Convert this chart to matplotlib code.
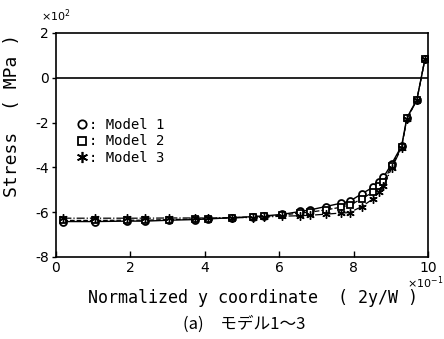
import numpy as np
from matplotlib import pyplot as plt
from matplotlib.lines import Line2D

# %% datos (x en x10^-1, tension en x10^2 MPa)
x_pos = [0.2, 1.05, 1.9, 2.4, 3.05, 3.75, 4.1, 4.72, 5.29, 5.59, 6.08, 6.56, 6.83,
         7.25, 7.66, 7.89, 8.22, 8.53, 8.69, 8.8, 9.02, 9.29, 9.43, 9.70, 9.92]

model1 = [-6.42, -6.42, -6.40, -6.40, -6.36, -6.33, -6.30, -6.25, -6.20, -6.17, -6.10,
          -5.97, -5.90, -5.75, -5.60, -5.52, -5.18, -4.88, -4.65, -4.45, -3.85, -3.05,
          -1.80, -0.98, 0.85]
model2 = [-6.37, -6.37, -6.36, -6.36, -6.33, -6.31, -6.29, -6.25, -6.21, -6.18, -6.13,
          -6.04, -6.00, -5.90, -5.78, -5.70, -5.40, -5.10, -4.85, -4.65, -3.95, -3.10,
          -1.82, -0.98, 0.85]
model3 = [-6.27, -6.27, -6.27, -6.27, -6.26, -6.26, -6.26, -6.25, -6.24, -6.22, -6.18,
          -6.16, -6.14, -6.09, -6.04, -6.02, -5.75, -5.40, -5.10, -4.85, -4.05, -3.12,
          -1.85, -1.00, 0.85]

labels = [": Model 1", ": Model 2", ": Model 3"]
x_ticks = [0, 2, 4, 6, 8, 10]
y_ticks = [2, 0, -2, -4, -6, -8]

mono = 'DejaVu Sans Mono'

fig = plt.figure(figsize=(4.44, 3.39), dpi=100)
ax = fig.add_axes([0.126, 0.242, 0.838, 0.661])

ax.axhline(0, color='black', lw=1.2)

ax.plot(x_pos, model1, '-', color='black', lw=1.0, marker='o', ms=5,
        mfc='white', mec='black', mew=1.3)
ax.plot(x_pos, model2, '--', color='black', lw=0.9, marker='s', ms=4.5,
        mfc='white', mec='black', mew=1.3)
ax.plot(x_pos, model3, '-.', color='black', lw=0.9, marker=(6, 2, 0), ms=6,
        mec='black', mew=1.0)

ax.set_xlim(0, 10)
ax.set_ylim(-8, 2)
ax.set_xticks(x_ticks)
ax.set_yticks(y_ticks)
ax.set_xticklabels([str(v) for v in x_ticks], fontsize=10)
ax.set_yticklabels([str(v) for v in y_ticks], fontsize=10)
ax.tick_params(axis='x', direction='in', length=4, width=1, pad=3)
ax.tick_params(axis='y', direction='out', length=3, width=1, pad=2)
for s in ax.spines.values():
    s.set_linewidth(1.2)

# multiplicadores de escala
fig.text(0.093, 0.955, r'$\times10^{2}$', fontsize=8, ha='left', va='center')
fig.text(0.998, 0.165, r'$\times10^{-1}$', fontsize=8, ha='right', va='center')

ax.set_ylabel('Stress  ( MPa )', family=mono, fontsize=13)
ax.yaxis.set_label_coords(-0.095, 0.63)
fig.text(0.57, 0.12, 'Normalized y coordinate  ( 2y/W )', family=mono,
         fontsize=12, ha='center', va='center')
fig.text(0.55, 0.045, '(a)　モデル1～3', family=['Noto Sans CJK JP', 'DejaVu Sans'],
         fontsize=12, ha='center', va='center')

handles = [Line2D([], [], ls='none', marker='o', ms=6, mfc='white', mec='black', mew=1.3),
           Line2D([], [], ls='none', marker='s', ms=6, mfc='white', mec='black', mew=1.3),
           Line2D([], [], ls='none', marker=(6, 2, 0), ms=8, mec='black', mew=1.2)]
leg = ax.legend(handles, labels, loc='upper left', bbox_to_anchor=(0.03, 0.665),
                frameon=False, handlelength=0.8, handletextpad=0.1,
                labelspacing=0.2, borderpad=0.2, prop={'family': mono, 'size': 10})

plt.savefig('out.png', dpi=100)
